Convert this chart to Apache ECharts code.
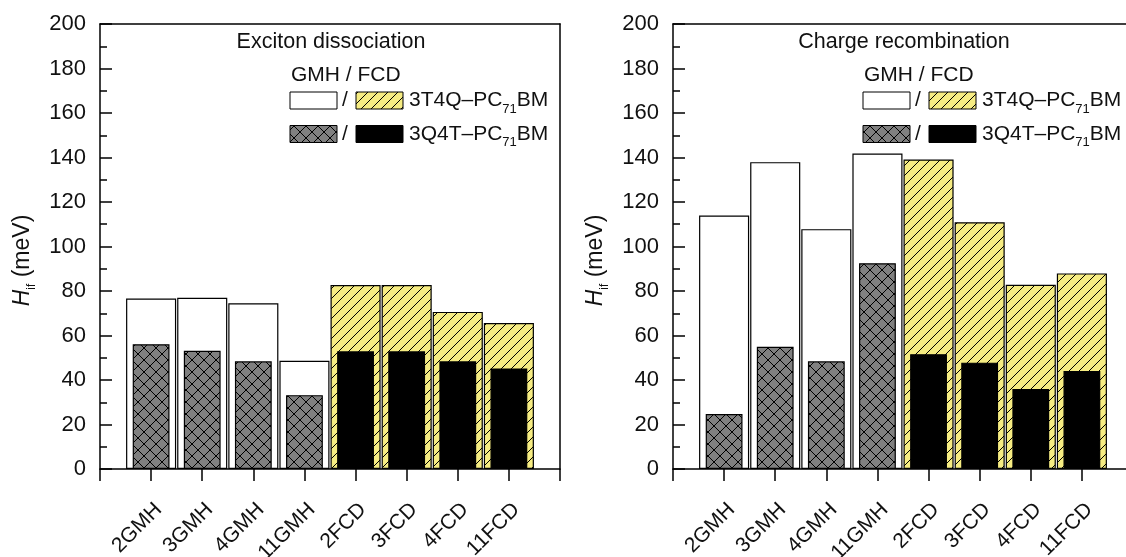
<!DOCTYPE html>
<html><head><meta charset="utf-8">
<script src="https://cdn.jsdelivr.net/npm/echarts@6/dist/echarts.min.js"></script>
<style>html,body{margin:0;padding:0;background:#fff}#c{width:1126px;height:557px}</style>
</head><body><div id="c"></div>
<script>
const categories = ['2GMH','3GMH','4GMH','11GMH','2FCD','3FCD','4FCD','11FCD'];
const groups = ['GMH','GMH','GMH','GMH','FCD','FCD','FCD','FCD'];
const panelTitles = ['Exciton dissociation', 'Charge recombination'];
const excitonT4Q = [76.6, 77.0, 74.5, 48.6, 82.7, 82.7, 70.6, 65.6];
const excitonQ4T = [56.1, 53.1, 48.4, 33.2, 52.9, 52.9, 48.4, 45.2];
const chargeT4Q = [113.9, 137.9, 107.8, 141.8, 139.1, 110.9, 82.8, 87.9];
const chargeQ4T = [24.7, 54.9, 48.4, 92.5, 51.6, 47.8, 36.0, 44.1];
const yMin = 0, yMax = 200, yStep = 20;

const FONT = '"Liberation Sans", Arial, sans-serif';
const TXT = '#111';
const YELLOW = '#f6ec82';
const GRAY = '#808080';

function hatch(bg, size, both) {
  const c = document.createElement('canvas'); c.width = c.height = size;
  const g = c.getContext('2d');
  g.fillStyle = bg; g.fillRect(0, 0, size, size);
  g.strokeStyle = '#000'; g.lineWidth = 1;
  g.beginPath();
  g.moveTo(-1, size + 1); g.lineTo(size + 1, -1);
  g.moveTo(-1, 1); g.lineTo(1, -1);
  g.moveTo(size - 1, size + 1); g.lineTo(size + 1, size - 1);
  if (both) {
    g.moveTo(-1, -1); g.lineTo(size + 1, size + 1);
    g.moveTo(size - 1, -1); g.lineTo(size + 1, 1);
    g.moveTo(-1, size - 1); g.lineTo(1, size + 1);
  }
  g.stroke();
  return c;
}
const yellowPat = { image: hatch(YELLOW, 10, false), repeat: 'repeat' };
const grayPat = { image: hatch(GRAY, 12, true), repeat: 'repeat' };

const xData = ['', ...categories, ''];

function outerItems(vals) {
  return ['-', ...vals.map((v, i) => ({
    value: v,
    itemStyle: { color: groups[i] === 'GMH' ? '#ffffff' : yellowPat, borderColor: '#000', borderWidth: 1.2 }
  })), '-'];
}
function innerItems(vals) {
  return ['-', ...vals.map((v, i) => ({
    value: v,
    itemStyle: { color: groups[i] === 'GMH' ? grayPat : '#000000', borderColor: '#000', borderWidth: 1.2 }
  })), '-'];
}

const grids = [
  { left: 100, top: 24, width: 460, height: 445, outerBoundsMode: 'none', containLabel: false },
  { left: 673, top: 24, width: 460, height: 445, outerBoundsMode: 'none', containLabel: false }
];

const xAxes = [], yAxes = [], series = [], graphics = [];
const panels = [[excitonT4Q, excitonQ4T], [chargeT4Q, chargeQ4T]];

panels.forEach((p, k) => {
  const xi = xAxes.length, yi = yAxes.length;
  xAxes.push({
    gridIndex: k, type: 'category', data: xData, boundaryGap: false, position: 'bottom',
    axisLine: { lineStyle: { color: '#000', width: 1.5 } },
    axisTick: { show: true, length: 12, lineStyle: { color: '#000', width: 1.5 } },
    axisLabel: { rotate: 45, fontSize: 21, fontFamily: FONT, color: TXT, margin: 30, interval: 0,
      align: 'right', verticalAlign: 'top', hideOverlap: false },
    splitLine: { show: false }
  });
  xAxes.push({ gridIndex: k, type: 'category', data: xData, boundaryGap: false, show: false });
  xAxes.push({
    gridIndex: k, type: 'category', data: xData, boundaryGap: false, position: 'top',
    axisLine: { lineStyle: { color: '#000', width: 1.5 } },
    axisTick: { show: false }, axisLabel: { show: false }, splitLine: { show: false }
  });
  yAxes.push({
    gridIndex: k, type: 'value', min: yMin, max: yMax, interval: yStep, position: 'left',
    axisLine: { show: true, lineStyle: { color: '#000', width: 1.5 } },
    axisTick: { show: true, inside: true, length: 12, lineStyle: { color: '#000', width: 1.5 } },
    minorTick: { show: true, splitNumber: 2, length: 7, lineStyle: { color: '#000', width: 1.5 } },
    axisLabel: { fontSize: 22, fontFamily: FONT, color: TXT, margin: 14 },
    splitLine: { show: false },
    name: '{i|H}{s|if}{n| (meV)}', nameLocation: 'middle', nameRotate: 90, nameGap: 62,
    nameTextStyle: {
      fontFamily: FONT, color: TXT, fontSize: 23, padding: [0, 28, 0, 0],
      rich: {
        i: { fontStyle: 'italic', fontSize: 23, fontFamily: FONT, color: TXT, lineHeight: 30 },
        s: { fontSize: 12, fontFamily: FONT, color: TXT, lineHeight: 30, verticalAlign: 'bottom' },
        n: { fontSize: 23, fontFamily: FONT, color: TXT, lineHeight: 30 }
      }
    }
  });
  yAxes.push({
    gridIndex: k, type: 'value', min: yMin, max: yMax, interval: yStep, position: 'right',
    axisLine: { show: true, lineStyle: { color: '#000', width: 1.5 } },
    axisTick: { show: false }, axisLabel: { show: false }, splitLine: { show: false }
  });
  series.push({
    type: 'bar', name: '3T4Q–PC71BM', xAxisIndex: xi, yAxisIndex: yi,
    data: outerItems(p[0]), barWidth: '98%', animation: false, z: 2
  });
  series.push({
    type: 'bar', name: '3Q4T–PC71BM', xAxisIndex: xi + 1, yAxisIndex: yi,
    data: innerItems(p[1]), barWidth: '72%', animation: false, z: 3
  });

  // panel title and legend
  const fr = grids[k].left + grids[k].width; // frame right
  const lx = fr - 270;
  const f21 = '21px ' + FONT;
  graphics.push({ type: 'text', x: fr - 229, y: 42.5, z: 10,
    style: { text: panelTitles[k], font: '21.5px ' + FONT, fill: TXT, align: 'center', verticalAlign: 'middle' } });
  graphics.push({ type: 'text', x: lx + 1, y: 75, z: 10,
    style: { text: 'GMH / FCD', font: f21, fill: TXT, align: 'left', verticalAlign: 'middle' } });
  const rows = [
    { y: 92, a: '#ffffff', b: yellowPat, t: '3T4Q–PC' },
    { y: 125.5, a: grayPat, b: '#000000', t: '3Q4T–PC' }
  ];
  rows.forEach(r => {
    graphics.push({ type: 'rect', z: 10, shape: { x: lx, y: r.y, width: 47, height: 17 },
      style: { fill: r.a, stroke: '#000', lineWidth: 1 } });
    graphics.push({ type: 'text', z: 10, x: lx + 55, y: r.y + 8.5,
      style: { text: '/', font: f21, fill: TXT, align: 'center', verticalAlign: 'middle' } });
    graphics.push({ type: 'rect', z: 10, shape: { x: lx + 66, y: r.y, width: 47, height: 17 },
      style: { fill: r.b, stroke: '#000', lineWidth: 1 } });
    graphics.push({ type: 'text', z: 10, x: lx + 119, y: r.y + 8.5,
      style: {
        text: '{n|' + r.t + '}{s|71}{n|BM}', align: 'left', verticalAlign: 'middle',
        rich: {
          n: { fontSize: 21, fontFamily: FONT, fill: TXT, lineHeight: 30 },
          s: { fontSize: 13, fontFamily: FONT, fill: TXT, lineHeight: 30, verticalAlign: 'bottom' }
        }
      } });
  });
});

const chart = echarts.init(document.getElementById('c'), null, { renderer: 'canvas' });
chart.setOption({
  backgroundColor: '#ffffff',
  animation: false,
  grid: grids,
  xAxis: xAxes,
  yAxis: yAxes,
  series: series,
  graphic: graphics
});
</script>
</body></html>
